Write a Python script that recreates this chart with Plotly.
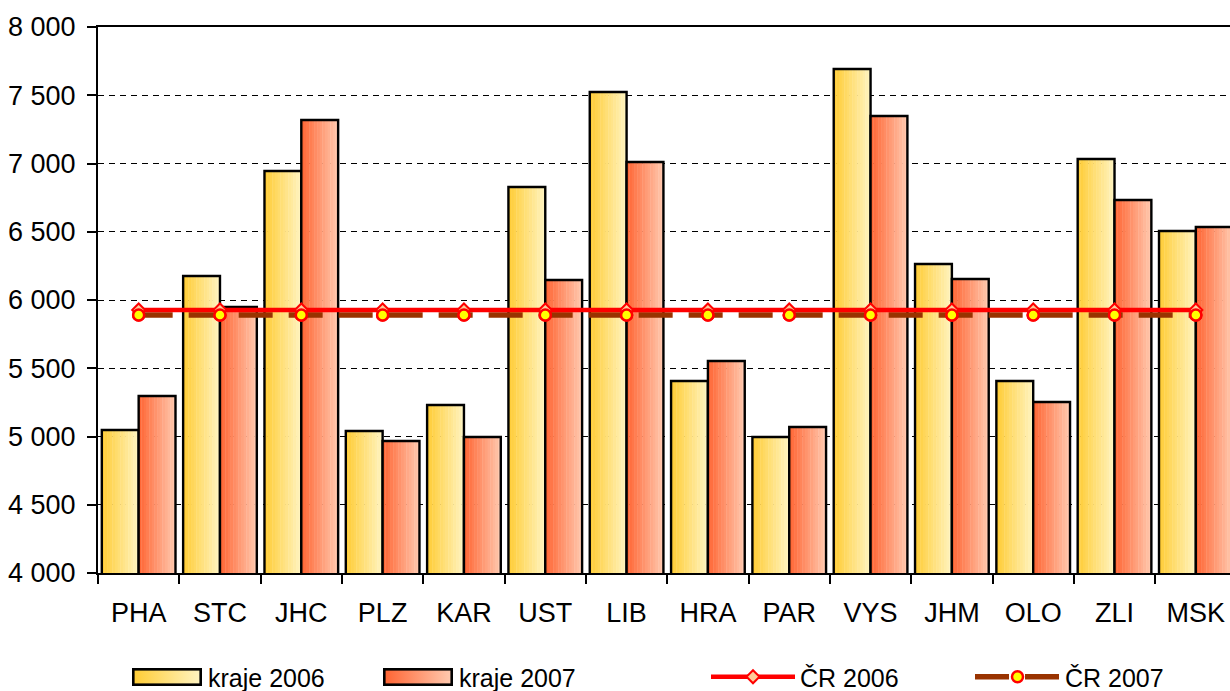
import base64
import plotly.graph_objects as go

regions = ["PHA", "STC", "JHC", "PLZ", "KAR", "UST", "LIB", "HRA", "PAR", "VYS", "JHM", "OLO", "ZLI", "MSK"]
kraje_2006 = [5048, 6176, 6945, 5040, 5231, 6828, 7524, 5407, 4996, 7692, 6264, 5407, 7033, 6505]
kraje_2007 = [5297, 5949, 7319, 4967, 4996, 6147, 7011, 5553, 5070, 7348, 6154, 5253, 6733, 6535]
cr_2006 = 5927
cr_2007 = 5890
y_ticks = [4000, 4500, 5000, 5500, 6000, 6500, 7000, 7500, 8000]

FONT = "Liberation Sans, Arial, sans-serif"
FS = 27
LFS = 25
BAR_W = 0.453
N_SLICES = 14

# plot area in pixels (for placing legend decorations)
ML, MT, MB, W, H = 98, 27, 118, 1230, 691
PW, PH = W - ML, H - MT - MB


def lerp(c1, c2, t):
    return "rgb(%d,%d,%d)" % tuple(round(a + (b - a) * t) for a, b in zip(c1, c2))


def hexc(c):
    return "#%02X%02X%02X" % c


grad_2006 = ((255, 204, 52), (255, 244, 194))
grad_2007 = ((255, 100, 50), (255, 202, 176))

fig = go.Figure()


def add_gradient_bars(values, offset0, grad, name):
    step = BAR_W / N_SLICES
    for i in range(N_SLICES):
        fig.add_trace(go.Bar(
            x=regions, y=values, width=step * 1.15 if i < N_SLICES - 1 else step,
            offset=offset0 + i * step,
            marker=dict(color=lerp(grad[0], grad[1], (i + 0.5) / N_SLICES), line=dict(width=0)),
            showlegend=False, hoverinfo="skip"))
    fig.add_trace(go.Bar(
        x=regions, y=values, width=BAR_W, offset=offset0, name=name,
        marker=dict(color="rgba(0,0,0,0)", line=dict(color="black", width=2.4)),
        showlegend=False))


add_gradient_bars(kraje_2006, -BAR_W, grad_2006, "kraje 2006")
add_gradient_bars(kraje_2007, 0.0, grad_2007, "kraje 2007")

# legend-only entries for the bar series (symbol drawn as gradient image below)
for nm, lg in (("kraje 2006", "legend"), ("kraje 2007", "legend2")):
    fig.add_trace(go.Scatter(x=[None], y=[None], name=nm, legend=lg, mode="lines",
                             line=dict(color="rgba(0,0,0,0)", width=0), hoverinfo="skip"))

fig.add_trace(go.Scatter(
    x=regions, y=[cr_2007] * len(regions), name="ČR 2007", mode="lines+markers", legend="legend4",
    line=dict(color="#993300", width=5.5, dash="34px,16px"),
    marker=dict(symbol="circle", size=11, color="#FFFF00", line=dict(color="#FF0000", width=2.5))))
fig.add_trace(go.Scatter(
    x=regions, y=[cr_2006] * len(regions), name="ČR 2006", mode="lines+markers", legend="legend3",
    line=dict(color="#FF0000", width=4.5),
    marker=dict(symbol="diamond", size=10, color="#FFCC99", line=dict(color="#FF0000", width=2))))
fig.add_trace(go.Scatter(
    x=regions, y=[cr_2007] * len(regions), mode="markers", showlegend=False, hoverinfo="skip",
    marker=dict(symbol="circle", size=11, color="#FFFF00", line=dict(color="#FF0000", width=2.5))))


def px_x(px):
    return (px - ML) / PW


def px_y(py):
    return (H - MB - py) / PH


def grad_svg(grad):
    svg = ("<svg xmlns='http://www.w3.org/2000/svg' width='70' height='18' viewBox='0 0 70 18' "
           "preserveAspectRatio='none'><defs><linearGradient id='g' x1='0' x2='1' y1='0' y2='0'>"
           "<stop offset='0' stop-color='%s'/><stop offset='1' stop-color='%s'/></linearGradient></defs>"
           "<rect x='1.3' y='1.3' width='67.4' height='15.4' fill='url(#g)' stroke='black' stroke-width='2.6'/>"
           "</svg>") % (hexc(grad[0]), hexc(grad[1]))
    return "data:image/svg+xml;base64," + base64.b64encode(svg.encode()).decode()


images = []
for grad, x0 in ((grad_2006, 132), (grad_2007, 383)):
    images.append(dict(source=grad_svg(grad), xref="paper", yref="paper",
                       x=px_x(x0), y=px_y(668), sizex=70 / PW, sizey=18 / PH,
                       xanchor="left", yanchor="top", sizing="stretch", layer="above"))

leg_common = dict(orientation="h", xref="container", yref="container",
                  yanchor="middle", y=1 - 677 / H, xanchor="left",
                  font=dict(family=FONT, size=LFS, color="black"), bgcolor="rgba(0,0,0,0)")

fig.update_layout(
    width=W, height=H,
    margin=dict(l=ML, r=0, t=MT, b=MB),
    paper_bgcolor="white", plot_bgcolor="white",
    barmode="overlay",
    separators=", ",
    font=dict(family=FONT, size=FS, color="black"),
    images=images,
    legend=dict(x=128 / W, itemwidth=70, **leg_common),
    legend2=dict(x=379 / W, itemwidth=70, **leg_common),
    legend3=dict(x=706 / W, itemwidth=84, **leg_common),
    legend4=dict(x=970 / W, itemwidth=85, **leg_common),
    xaxis=dict(
        type="category", showline=True, linecolor="black", linewidth=2, mirror=True,
        ticks="outside", tickson="boundaries", ticklen=9, tickwidth=2, tickcolor="black",
        showgrid=False, tickfont=dict(family=FONT, size=FS), range=[-0.5, 13.42],
        ticklabelstandoff=15, automargin=False),
    yaxis=dict(
        range=[4000, 8000], tickvals=y_ticks, tickformat=",d",
        showline=True, linecolor="black", linewidth=2,
        ticks="outside", ticklen=9, tickwidth=2, tickcolor="black",
        showgrid=True, gridcolor="black", gridwidth=1, griddash="6px,5px",
        zeroline=False, tickfont=dict(family=FONT, size=FS), ticklabelstandoff=6,
        automargin=False),
)

fig.write_html("out.html", config={"displayModeBar": False},
               post_script="document.body.style.margin='0';document.body.style.overflow='hidden';")
